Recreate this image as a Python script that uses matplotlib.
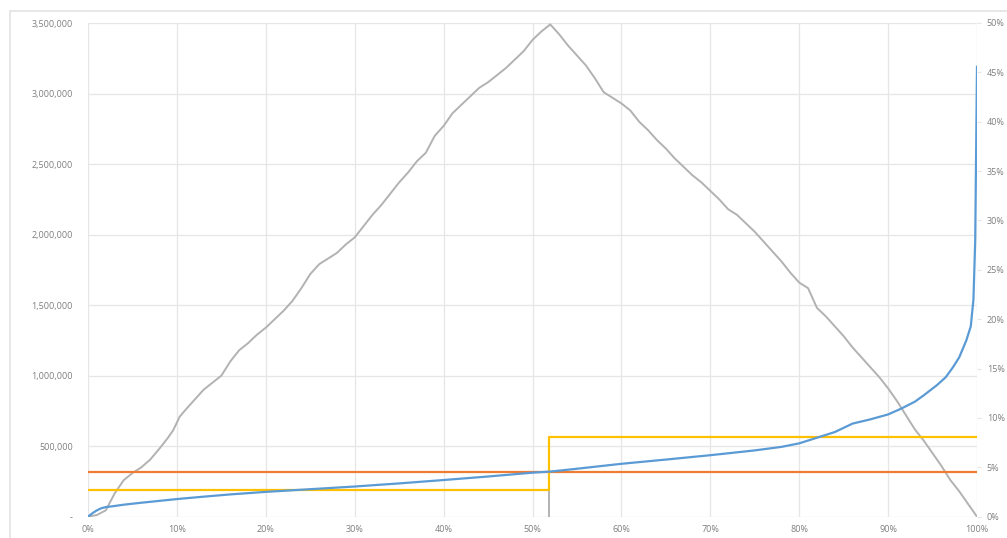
import numpy as np
from matplotlib import pyplot as plt
from matplotlib.patches import Rectangle
from matplotlib.ticker import FuncFormatter

plt.rcParams["font.family"] = ["Open Sans", "DejaVu Sans"]
plt.rcParams["font.size"] = 6.5

# grey series: rises to a peak around 52% then falls back to 0
grey_x = [0, 1, 2, 3, 4, 5, 6, 7, 8, 9, 9.6, 10.3, 11, 12, 13, 14, 15, 16, 17, 18, 19, 20,
          21, 22, 23, 24, 25, 26, 27, 28, 29, 30, 31, 32, 33, 34, 35, 36, 37, 38, 39, 40,
          41, 42, 43, 44, 45, 46, 47, 48, 49, 50, 51, 52,
          53, 54, 55, 56, 57, 58, 59, 60, 61, 62, 63, 64, 65, 66, 67, 68, 69, 70,
          71, 72, 73, 74, 75, 76, 77, 78, 79, 80, 81, 82, 83, 84, 85, 86, 87, 88, 89, 90,
          91, 92, 93, 94, 95, 96, 97, 98, 99, 100]
grey_y = [0, 12, 45, 165, 258, 310, 350, 405, 480, 560, 615, 708, 760, 830, 900, 950, 1000, 1100, 1180, 1230, 1290, 1340,
          1400, 1460, 1530, 1620, 1720, 1790, 1830, 1870, 1930, 1980, 2060, 2140, 2210, 2290, 2370, 2440, 2520, 2580, 2700, 2770,
          2860, 2920, 2980, 3040, 3080, 3130, 3180, 3240, 3300, 3380, 3440, 3490,
          3420, 3340, 3270, 3200, 3110, 3010, 2970, 2930, 2880, 2800, 2740, 2670, 2610, 2540, 2480, 2420, 2370, 2310,
          2250, 2180, 2140, 2080, 2020, 1950, 1880, 1810, 1730, 1660, 1620, 1480, 1420, 1350, 1280, 1200, 1130, 1060, 990, 910,
          820, 720, 620, 540, 450, 360, 260, 180, 90, 0]

# blue series: cumulative curve, shoots up at the end
blue_x = [0, 0.5, 1, 1.5, 2, 3, 4, 5, 6, 8, 10, 13, 16, 20, 25, 30, 35, 40, 45, 50, 52, 55,
          60, 65, 70, 75, 78, 80, 81, 82, 84, 86, 88, 90, 91.5, 93, 94, 95.5, 96.5, 97.3,
          98, 98.8, 99.3, 99.6, 99.8, 100]
blue_y = [0, 25, 45, 60, 68, 76, 85, 92, 99, 112, 125, 142, 158, 176, 195, 214, 236, 260, 285, 312, 320, 340,
          375, 405, 436, 470, 495, 520, 540, 560, 600, 660, 690, 725, 767, 815, 860, 933, 990, 1060,
          1130, 1250, 1350, 1540, 1960, 3190]

# flat reference lines (right axis, %)
orange_x = [0, 100]
orange_pct = [4.5, 4.5]
yellow_x = [0, 51.8, 51.8, 100]
yellow_pct = [2.67, 2.67, 8.09, 8.09]
grey_drop_x = [51.8, 51.8]
grey_drop_y = [0, 180]

blue = '#5B9BD5'
orange = '#ED7D31'
grey = '#B2B2B2'
yellow = '#FFC000'
label_col = '#7F7F7F'
grid_col = '#E6E6E6'

fig = plt.figure(figsize=(10.07, 5.38), dpi=100)
ax = fig.add_axes([88/1007, (538-516.7)/538, 889/1007, (516.7-23)/538])
ax2 = ax.twinx()

ax.plot(grey_x, np.array(grey_y)*1000, color=grey, lw=1.4, zorder=2)
ax.plot(grey_drop_x, np.array(grey_drop_y)*1000, color=grey, lw=1.4, zorder=2)
ax2.plot(orange_x, orange_pct, color=orange, lw=1.6, zorder=3)
ax2.plot(yellow_x, yellow_pct, color=yellow, lw=1.6, zorder=3)
ax2.plot(blue_x, np.array(blue_y)*1000/3500000*50, color=blue, lw=1.6, zorder=4)

ax.set_xlim(0, 100)
ax.set_ylim(0, 3500000)
ax2.set_ylim(0, 50)

ax.set_xticks(np.arange(0, 101, 10))
ax.set_yticks(np.arange(0, 3500001, 500000))
ax2.set_yticks(np.arange(0, 51, 5))

ax.xaxis.set_major_formatter(FuncFormatter(lambda v, p: '%d%%' % v))
ax.yaxis.set_major_formatter(FuncFormatter(lambda v, p: '-' if v == 0 else '{:,.0f}'.format(v)))
ax2.yaxis.set_major_formatter(FuncFormatter(lambda v, p: '%d%%' % v))

ax.grid(True, color=grid_col, lw=0.9)
ax.set_axisbelow(True)
for a in (ax, ax2):
    for s in a.spines.values():
        s.set_visible(False)

ax.tick_params(axis='both', length=0, colors=label_col)
ax.tick_params(axis='y', pad=11)
ax.tick_params(axis='x', pad=6)
ax2.tick_params(axis='y', length=3, colors=label_col, pad=4)
ax2.tick_params(axis='y', color=grid_col)

# outer chart border
fig.patches.append(Rectangle((10/1007, -0.05), 1.1, (538-11)/538 + 0.05, transform=fig.transFigure,
                             fill=False, edgecolor='#E3E3E3', lw=1.2))

fig.savefig('out.png', dpi=100)
